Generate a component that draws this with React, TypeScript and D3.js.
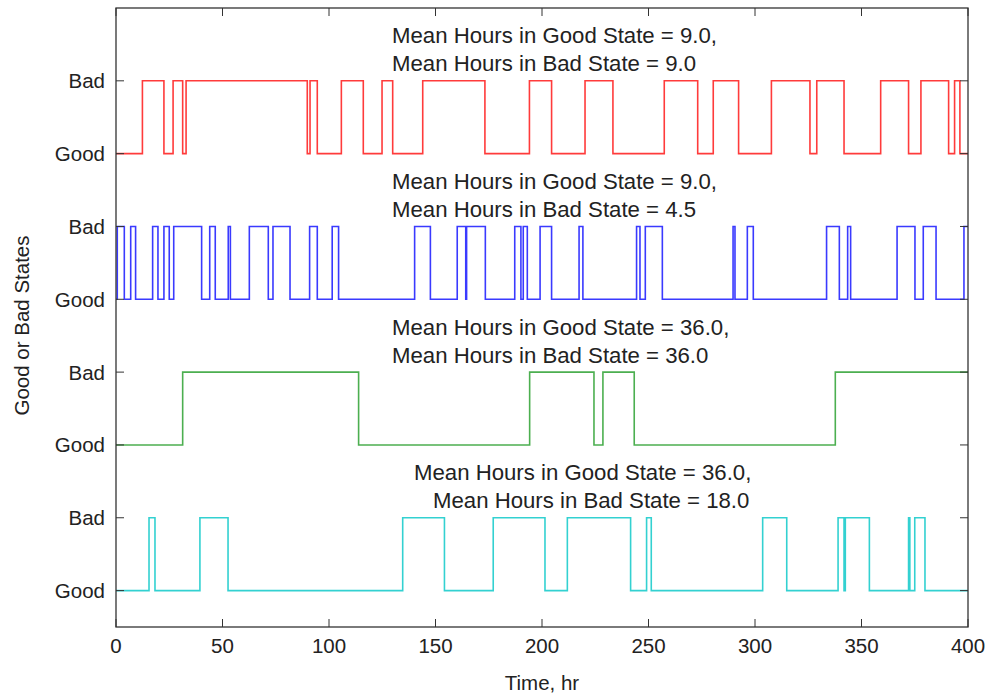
import React from "react";
import * as d3 from "d3";

// Switching times (hours) for each series; every series starts in the Good state
const redSwitch = [12.4, 22.5, 26.8, 31.3, 32.9, 89.8, 91.1, 94.5, 105.8, 116.1, 124.9, 129.9, 144.0, 173.2, 194.1, 204.5, 220.2, 233.3, 257.4, 273.1, 280.4, 292.3, 307.7, 325.8, 329.0, 341.8, 359.0, 372.1, 377.9, 390.9, 393.7, 396.2];
const blueSwitch = [0.6, 3.9, 6.9, 9.2, 17.2, 19.7, 22.5, 25.0, 27.1, 40.2, 44.0, 46.6, 52.7, 53.7, 62.6, 71.5, 73.7, 81.7, 90.9, 94.5, 101.5, 104.5, 140.2, 147.6, 160.2, 164.2, 164.6, 173.4, 187.2, 190.1, 191.2, 193.1, 199.1, 204.5, 217.4, 219.2, 244.4, 246.0, 248.5, 256.5, 289.7, 290.6, 296.4, 299.2, 333.6, 339.6, 343.5, 344.9, 366.7, 375.1, 379.0, 385.0, 398.1];
const greenSwitch = [31.3, 113.9, 194.2, 224.4, 228.6, 243.3, 337.7];
const cyanSwitch = [15.5, 18.3, 39.4, 52.6, 134.6, 154.2, 177.1, 201.4, 211.9, 241.6, 249.1, 251.3, 303.6, 314.9, 339.0, 341.8, 342.4, 353.7, 372.1, 372.7, 375.0, 379.8];

const seriesNames = ["red", "blue", "green", "cyan"];
const seriesOffsets = [6, 4, 2, 0];
const seriesColors = ["#ff3b3b", "#3a3aff", "#4caf50", "#33d1d1"];
const seriesSwitches = [redSwitch, blueSwitch, greenSwitch, cyanSwitch];

const annotLine1 = [
  "Mean Hours in Good State = 9.0,",
  "Mean Hours in Good State = 9.0,",
  "Mean Hours in Good State = 36.0,",
  "Mean Hours in Good State = 36.0,",
];
const annotLine2 = [
  "Mean Hours in Bad State = 9.0",
  "Mean Hours in Bad State = 4.5",
  "Mean Hours in Bad State = 36.0",
  "Mean Hours in Bad State = 18.0",
];

const xTicks = [0, 50, 100, 150, 200, 250, 300, 350, 400];
const yTickValues = [0, 1, 2, 3, 4, 5, 6, 7];
const yTickLabels = ["Good", "Bad", "Good", "Bad", "Good", "Bad", "Good", "Bad"];
const xLabel = "Time, hr";
const yLabel = "Good or Bad States";
const tEnd = 400;

const FONT = "'Liberation Sans', Arial, Helvetica, sans-serif";

export default function App() {
  const W = 993, H = 698;
  const left = 116, right = 968, top = 8, bottom = 627;
  const x = d3.scaleLinear().domain([0, 400]).range([left, right]);
  const y = d3.scaleLinear().domain([-0.5, 8]).range([bottom, top]);

  const line = d3
    .line<[number, number]>()
    .x((d) => x(d[0]))
    .y((d) => y(d[1]))
    .curve(d3.curveStepAfter);

  const buildPts = (sw: number[], off: number): [number, number][] => {
    const pts: [number, number][] = [[0, off]];
    let st = 0;
    sw.forEach((t) => {
      st = 1 - st;
      pts.push([t, off + st]);
    });
    pts.push([tEnd, off + st]);
    return pts;
  };

  const annotX1 = [392, 392, 392, 414];
  const annotX2 = [392, 392, 392, 433];
  const tickLen = 8;
  const axisColor = "#333";
  const textColor = "#222";

  return (
    <svg width={W} height={H} style={{ display: "block", position: "absolute", left: 0, top: 0 }}>
      <rect x={0} y={0} width={W} height={H} fill="#fff" />
      {seriesNames.map((n, i) => (
        <path
          key={n}
          d={line(buildPts(seriesSwitches[i], seriesOffsets[i])) || ""}
          fill="none"
          stroke={seriesColors[i]}
          strokeWidth={1.6}
        />
      ))}
      {/* annotations */}
      {seriesNames.map((n, i) => {
        const base = y(seriesOffsets[i] + 1);
        return (
          <g key={"a" + n} fontFamily={FONT} fontSize={22.2} fill={textColor}>
            <text x={annotX1[i]} y={base - 37.5}>{annotLine1[i]}</text>
            <text x={annotX2[i]} y={base - 9.5}>{annotLine2[i]}</text>
          </g>
        );
      })}
      {/* box */}
      <rect x={left} y={top} width={right - left} height={bottom - top} fill="none" stroke={axisColor} strokeWidth={1.3} />
      {/* x ticks */}
      {xTicks.map((t) => (
        <g key={"x" + t}>
          <line x1={x(t)} x2={x(t)} y1={bottom} y2={bottom - tickLen} stroke={axisColor} strokeWidth={1} />
          <line x1={x(t)} x2={x(t)} y1={top} y2={top + tickLen} stroke={axisColor} strokeWidth={1} />
          <text x={x(t)} y={653} textAnchor="middle" fontFamily={FONT} fontSize={20.5} fill={textColor}>
            {t}
          </text>
        </g>
      ))}
      {/* y ticks */}
      {yTickValues.map((v, i) => (
        <g key={"y" + i}>
          <line x1={left} x2={left + tickLen} y1={y(v)} y2={y(v)} stroke={axisColor} strokeWidth={1} />
          <line x1={right} x2={right - tickLen} y1={y(v)} y2={y(v)} stroke={axisColor} strokeWidth={1} />
          <text x={105} y={y(v) + 7.5} textAnchor="end" fontFamily={FONT} fontSize={20.5} fill={textColor}>
            {yTickLabels[i]}
          </text>
        </g>
      ))}
      <text x={(left + right) / 2} y={690} textAnchor="middle" fontFamily={FONT} fontSize={20.5} fill={textColor}>
        {xLabel}
      </text>
      <text
        transform={`translate(29, ${(top + bottom) / 2 + 8}) rotate(-90)`}
        textAnchor="middle"
        fontFamily={FONT}
        fontSize={20.5}
        fill={textColor}
      >
        {yLabel}
      </text>
    </svg>
  );
}
